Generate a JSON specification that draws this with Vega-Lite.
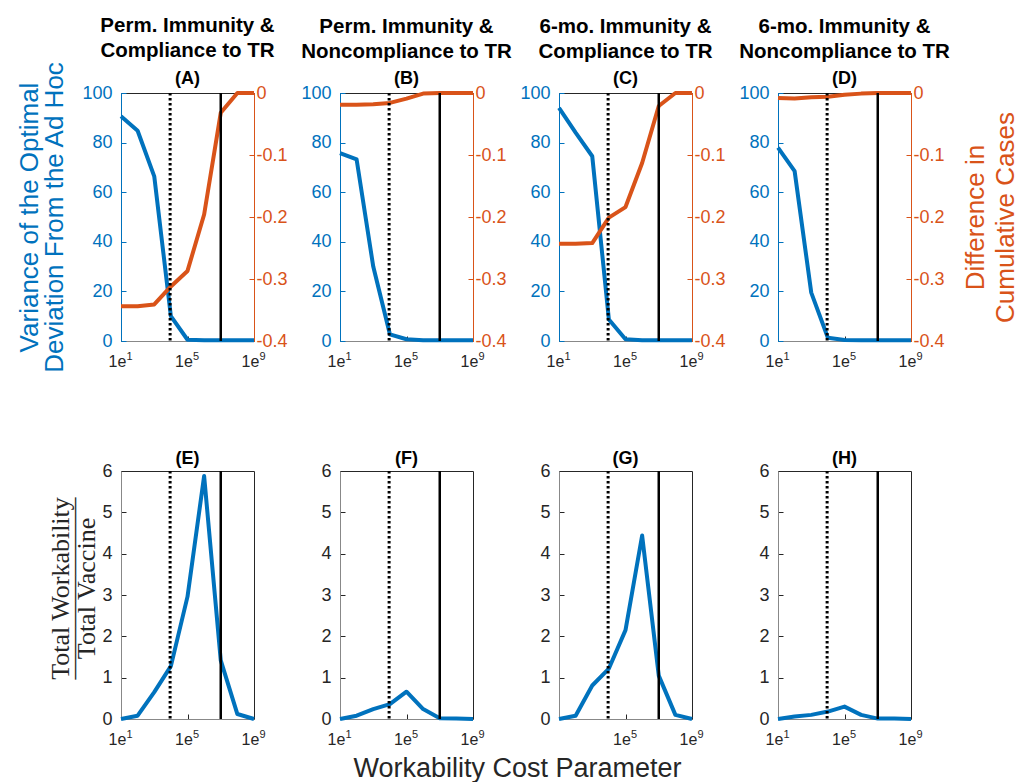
{
  "$schema": "https://vega.github.io/schema/vega-lite/v6.json",
  "background": "white",
  "padding": {"left": 16, "top": 15, "right": 0, "bottom": 0},
  "config": {
    "font": "Liberation Sans",
    "view": {"stroke": "#262626", "strokeWidth": 1},
    "axis": {"labelFont": "Liberation Sans", "labelFontSize": 18, "labelColor": "#262626", "domainColor": "#888888", "tickColor": "#262626", "grid": false, "titleFont": "Liberation Sans", "titleFontWeight": "normal", "tickSize": -5, "labelPadding": 13, "labelFlush": false},
    "title": {"font": "Liberation Sans", "fontSize": 20.5, "fontWeight": "bold", "color": "#000000", "subtitleFont": "Liberation Sans", "subtitleFontSize": 18, "subtitleFontWeight": "bold", "subtitleColor": "#000000", "lineHeight": 25, "subtitlePadding": 8, "offset": -4, "anchor": "middle", "frame": "group"},
    "line": {"strokeWidth": 4, "strokeJoin": "round"}
  },
  "datasets": {
    "top": [
      {"panel": "A", "cost": 10, "variance": 90.6, "difference": -0.344},
      {"panel": "A", "cost": 100, "variance": 84.8, "difference": -0.344},
      {"panel": "A", "cost": 1000, "variance": 66.4, "difference": -0.341},
      {"panel": "A", "cost": 10000, "variance": 10, "difference": -0.312},
      {"panel": "A", "cost": 100000, "variance": 0.5, "difference": -0.287},
      {"panel": "A", "cost": 1000000, "variance": 0.3, "difference": -0.196},
      {"panel": "A", "cost": 10000000, "variance": 0.3, "difference": -0.032},
      {"panel": "A", "cost": 100000000, "variance": 0.3, "difference": 0},
      {"panel": "A", "cost": 1000000000, "variance": 0.3, "difference": 0},
      {"panel": "B", "cost": 10, "variance": 75.8, "difference": -0.019},
      {"panel": "B", "cost": 100, "variance": 73.2, "difference": -0.019},
      {"panel": "B", "cost": 1000, "variance": 30, "difference": -0.018},
      {"panel": "B", "cost": 10000, "variance": 2.7, "difference": -0.016},
      {"panel": "B", "cost": 100000, "variance": 0.7, "difference": -0.009},
      {"panel": "B", "cost": 1000000, "variance": 0.3, "difference": -0.001},
      {"panel": "B", "cost": 10000000, "variance": 0.3, "difference": 0},
      {"panel": "B", "cost": 100000000, "variance": 0.3, "difference": 0},
      {"panel": "B", "cost": 1000000000, "variance": 0.3, "difference": 0},
      {"panel": "C", "cost": 10, "variance": 94, "difference": -0.243},
      {"panel": "C", "cost": 100, "variance": 84, "difference": -0.243},
      {"panel": "C", "cost": 1000, "variance": 74.5, "difference": -0.242},
      {"panel": "C", "cost": 10000, "variance": 8.7, "difference": -0.201},
      {"panel": "C", "cost": 100000, "variance": 0.7, "difference": -0.184},
      {"panel": "C", "cost": 1000000, "variance": 0.3, "difference": -0.113},
      {"panel": "C", "cost": 10000000, "variance": 0.3, "difference": -0.021},
      {"panel": "C", "cost": 100000000, "variance": 0.3, "difference": 0},
      {"panel": "C", "cost": 1000000000, "variance": 0.3, "difference": 0},
      {"panel": "D", "cost": 10, "variance": 78, "difference": -0.008},
      {"panel": "D", "cost": 100, "variance": 68.5, "difference": -0.009},
      {"panel": "D", "cost": 1000, "variance": 19.5, "difference": -0.007},
      {"panel": "D", "cost": 10000, "variance": 1.3, "difference": -0.006},
      {"panel": "D", "cost": 100000, "variance": 0.4, "difference": -0.003},
      {"panel": "D", "cost": 1000000, "variance": 0.3, "difference": -0.001},
      {"panel": "D", "cost": 10000000, "variance": 0.3, "difference": 0},
      {"panel": "D", "cost": 100000000, "variance": 0.3, "difference": 0},
      {"panel": "D", "cost": 1000000000, "variance": 0.3, "difference": 0}
    ],
    "bottom": [
      {"panel": "E", "cost": 10, "ratio": 0},
      {"panel": "E", "cost": 100, "ratio": 0.08},
      {"panel": "E", "cost": 1000, "ratio": 0.65},
      {"panel": "E", "cost": 10000, "ratio": 1.28},
      {"panel": "E", "cost": 100000, "ratio": 2.96},
      {"panel": "E", "cost": 1000000, "ratio": 5.88},
      {"panel": "E", "cost": 10000000, "ratio": 1.42},
      {"panel": "E", "cost": 100000000, "ratio": 0.12},
      {"panel": "E", "cost": 1000000000, "ratio": 0},
      {"panel": "F", "cost": 10, "ratio": 0},
      {"panel": "F", "cost": 100, "ratio": 0.08},
      {"panel": "F", "cost": 1000, "ratio": 0.24},
      {"panel": "F", "cost": 10000, "ratio": 0.36},
      {"panel": "F", "cost": 100000, "ratio": 0.66},
      {"panel": "F", "cost": 1000000, "ratio": 0.24},
      {"panel": "F", "cost": 10000000, "ratio": 0.02},
      {"panel": "F", "cost": 100000000, "ratio": 0.01},
      {"panel": "F", "cost": 1000000000, "ratio": 0},
      {"panel": "G", "cost": 10, "ratio": 0},
      {"panel": "G", "cost": 100, "ratio": 0.08},
      {"panel": "G", "cost": 1000, "ratio": 0.81},
      {"panel": "G", "cost": 10000, "ratio": 1.22},
      {"panel": "G", "cost": 100000, "ratio": 2.15},
      {"panel": "G", "cost": 1000000, "ratio": 4.44},
      {"panel": "G", "cost": 10000000, "ratio": 1.05},
      {"panel": "G", "cost": 100000000, "ratio": 0.1},
      {"panel": "G", "cost": 1000000000, "ratio": 0},
      {"panel": "H", "cost": 10, "ratio": 0},
      {"panel": "H", "cost": 100, "ratio": 0.06},
      {"panel": "H", "cost": 1000, "ratio": 0.1},
      {"panel": "H", "cost": 10000, "ratio": 0.18},
      {"panel": "H", "cost": 100000, "ratio": 0.3},
      {"panel": "H", "cost": 1000000, "ratio": 0.1},
      {"panel": "H", "cost": 10000000, "ratio": 0.01},
      {"panel": "H", "cost": 100000000, "ratio": 0.01},
      {"panel": "H", "cost": 1000000000, "ratio": 0}
    ],
    "thresholds": [
      {"threshold": "lower", "cost": 9000},
      {"threshold": "upper", "cost": 10000000}
    ]
  },
  "title": {"text": "Workability Cost Parameter", "orient": "bottom", "anchor": "middle", "frame": "bounds", "fontSize": 27, "fontWeight": "normal", "color": "#262626", "offset": 8},
  "columns": 4,
  "spacing": {"row": 130, "column": 86},
  "bounds": "flush",
  "concat": [
    {
      "width": 133, "height": 248,
      "title": {"text": ["Perm. Immunity &", "Compliance to TR"], "subtitle": "(A)", "dy": 23},
      "layer": [
        {"data": {"name": "top"}, "transform": [{"filter": "datum.panel === 'A'"}],
         "mark": {"type": "line", "color": "#0072BD"},
         "encoding": {
           "x": {"field": "cost", "type": "quantitative", "scale": {"type": "log", "domain": [10, 1000000000], "nice": false}, "axis": {"orient": "bottom", "offset": 0, "values": [10, 100000, 1000000000], "title": null, "labelExpr": "'1e'", "labelFontSize": 16, "labelOffset": -4, "labelPadding": 17}},
           "y": {"field": "variance", "type": "quantitative", "scale": {"domain": [0, 100], "nice": false}, "axis": {"orient": "left", "values": [0, 20, 40, 60, 80, 100], "domainColor": "#0072BD", "labelColor": "#0072BD", "tickColor": "#0072BD", "title": ["Variance of the Optimal", "Deviation From the Ad Hoc"], "titleColor": "#0072BD", "titleFontSize": 26, "titleLineHeight": 25, "titlePadding": 14, "labelPadding": 14}}
         }},
        {"data": {"name": "top"}, "transform": [{"filter": "datum.panel === 'A'"}],
         "mark": {"type": "line", "color": "#D95319"},
         "encoding": {
           "x": {"field": "cost", "type": "quantitative", "axis": null},
           "y": {"field": "difference", "type": "quantitative", "scale": {"domain": [-0.4, 0], "nice": false}, "axis": {"orient": "right", "values": [-0.4, -0.3, -0.2, -0.1, 0], "labelExpr": "datum.value == 0 ? '0' : '-' + format(abs(datum.value), '.1f')", "domainColor": "#D95319", "labelColor": "#D95319", "tickColor": "#D95319", "title": null, "labelPadding": 7}}
         }},
        {"data": {"name": "thresholds"}, "transform": [{"filter": "datum.threshold === 'lower'"}],
         "mark": {"type": "rule", "color": "#000000", "strokeWidth": 3, "strokeDash": [2.5, 2.5]},
         "encoding": {"x": {"field": "cost", "type": "quantitative", "axis": {"orient": "bottom", "offset": 0, "values": [10, 100000, 1000000000], "title": null, "labelExpr": "datum.value == 10 ? '1' : datum.value == 100000 ? '5' : '9'", "labelFontSize": 11, "labelOffset": 8, "labelPadding": 14, "tickOpacity": 0, "domain": false}}}},
        {"data": {"name": "thresholds"}, "transform": [{"filter": "datum.threshold === 'upper'"}],
         "mark": {"type": "rule", "color": "#000000", "strokeWidth": 2.5},
         "encoding": {"x": {"field": "cost", "type": "quantitative", "axis": null}}}
      ],
      "resolve": {"scale": {"y": "independent"}, "axis": {"x": "independent"}}
    },
    {
      "width": 133, "height": 248,
      "title": {"text": ["Perm. Immunity &", "Noncompliance to TR"], "subtitle": "(B)"},
      "layer": [
        {"data": {"name": "top"}, "transform": [{"filter": "datum.panel === 'B'"}],
         "mark": {"type": "line", "color": "#0072BD"},
         "encoding": {
           "x": {"field": "cost", "type": "quantitative", "scale": {"type": "log", "domain": [10, 1000000000], "nice": false}, "axis": {"orient": "bottom", "offset": 0, "values": [10, 100000, 1000000000], "title": null, "labelExpr": "'1e'", "labelFontSize": 16, "labelOffset": -4, "labelPadding": 17}},
           "y": {"field": "variance", "type": "quantitative", "scale": {"domain": [0, 100], "nice": false}, "axis": {"orient": "left", "values": [0, 20, 40, 60, 80, 100], "domainColor": "#0072BD", "labelColor": "#0072BD", "tickColor": "#0072BD", "title": null, "labelPadding": 14}}
         }},
        {"data": {"name": "top"}, "transform": [{"filter": "datum.panel === 'B'"}],
         "mark": {"type": "line", "color": "#D95319"},
         "encoding": {
           "x": {"field": "cost", "type": "quantitative", "axis": null},
           "y": {"field": "difference", "type": "quantitative", "scale": {"domain": [-0.4, 0], "nice": false}, "axis": {"orient": "right", "values": [-0.4, -0.3, -0.2, -0.1, 0], "labelExpr": "datum.value == 0 ? '0' : '-' + format(abs(datum.value), '.1f')", "domainColor": "#D95319", "labelColor": "#D95319", "tickColor": "#D95319", "title": null, "labelPadding": 7}}
         }},
        {"data": {"name": "thresholds"}, "transform": [{"filter": "datum.threshold === 'lower'"}],
         "mark": {"type": "rule", "color": "#000000", "strokeWidth": 3, "strokeDash": [2.5, 2.5]},
         "encoding": {"x": {"field": "cost", "type": "quantitative", "axis": {"orient": "bottom", "offset": 0, "values": [10, 100000, 1000000000], "title": null, "labelExpr": "datum.value == 10 ? '1' : datum.value == 100000 ? '5' : '9'", "labelFontSize": 11, "labelOffset": 8, "labelPadding": 14, "tickOpacity": 0, "domain": false}}}},
        {"data": {"name": "thresholds"}, "transform": [{"filter": "datum.threshold === 'upper'"}],
         "mark": {"type": "rule", "color": "#000000", "strokeWidth": 2.5},
         "encoding": {"x": {"field": "cost", "type": "quantitative", "axis": null}}}
      ],
      "resolve": {"scale": {"y": "independent"}, "axis": {"x": "independent"}}
    },
    {
      "width": 133, "height": 248,
      "title": {"text": ["6-mo. Immunity &", "Compliance to TR"], "subtitle": "(C)"},
      "layer": [
        {"data": {"name": "top"}, "transform": [{"filter": "datum.panel === 'C'"}],
         "mark": {"type": "line", "color": "#0072BD"},
         "encoding": {
           "x": {"field": "cost", "type": "quantitative", "scale": {"type": "log", "domain": [10, 1000000000], "nice": false}, "axis": {"orient": "bottom", "offset": 0, "values": [10, 100000, 1000000000], "title": null, "labelExpr": "'1e'", "labelFontSize": 16, "labelOffset": -4, "labelPadding": 17}},
           "y": {"field": "variance", "type": "quantitative", "scale": {"domain": [0, 100], "nice": false}, "axis": {"orient": "left", "values": [0, 20, 40, 60, 80, 100], "domainColor": "#0072BD", "labelColor": "#0072BD", "tickColor": "#0072BD", "title": null, "labelPadding": 14}}
         }},
        {"data": {"name": "top"}, "transform": [{"filter": "datum.panel === 'C'"}],
         "mark": {"type": "line", "color": "#D95319"},
         "encoding": {
           "x": {"field": "cost", "type": "quantitative", "axis": null},
           "y": {"field": "difference", "type": "quantitative", "scale": {"domain": [-0.4, 0], "nice": false}, "axis": {"orient": "right", "values": [-0.4, -0.3, -0.2, -0.1, 0], "labelExpr": "datum.value == 0 ? '0' : '-' + format(abs(datum.value), '.1f')", "domainColor": "#D95319", "labelColor": "#D95319", "tickColor": "#D95319", "title": null, "labelPadding": 7}}
         }},
        {"data": {"name": "thresholds"}, "transform": [{"filter": "datum.threshold === 'lower'"}],
         "mark": {"type": "rule", "color": "#000000", "strokeWidth": 3, "strokeDash": [2.5, 2.5]},
         "encoding": {"x": {"field": "cost", "type": "quantitative", "axis": {"orient": "bottom", "offset": 0, "values": [10, 100000, 1000000000], "title": null, "labelExpr": "datum.value == 10 ? '1' : datum.value == 100000 ? '5' : '9'", "labelFontSize": 11, "labelOffset": 8, "labelPadding": 14, "tickOpacity": 0, "domain": false}}}},
        {"data": {"name": "thresholds"}, "transform": [{"filter": "datum.threshold === 'upper'"}],
         "mark": {"type": "rule", "color": "#000000", "strokeWidth": 2.5},
         "encoding": {"x": {"field": "cost", "type": "quantitative", "axis": null}}}
      ],
      "resolve": {"scale": {"y": "independent"}, "axis": {"x": "independent"}}
    },
    {
      "width": 133, "height": 248,
      "title": {"text": ["6-mo. Immunity &", "Noncompliance to TR"], "subtitle": "(D)"},
      "layer": [
        {"data": {"name": "top"}, "transform": [{"filter": "datum.panel === 'D'"}],
         "mark": {"type": "line", "color": "#0072BD"},
         "encoding": {
           "x": {"field": "cost", "type": "quantitative", "scale": {"type": "log", "domain": [10, 1000000000], "nice": false}, "axis": {"orient": "bottom", "offset": 0, "values": [10, 100000, 1000000000], "title": null, "labelExpr": "'1e'", "labelFontSize": 16, "labelOffset": -4, "labelPadding": 17}},
           "y": {"field": "variance", "type": "quantitative", "scale": {"domain": [0, 100], "nice": false}, "axis": {"orient": "left", "values": [0, 20, 40, 60, 80, 100], "domainColor": "#0072BD", "labelColor": "#0072BD", "tickColor": "#0072BD", "title": null, "labelPadding": 14}}
         }},
        {"data": {"name": "top"}, "transform": [{"filter": "datum.panel === 'D'"}],
         "mark": {"type": "line", "color": "#D95319"},
         "encoding": {
           "x": {"field": "cost", "type": "quantitative", "axis": null},
           "y": {"field": "difference", "type": "quantitative", "scale": {"domain": [-0.4, 0], "nice": false}, "axis": {"orient": "right", "values": [-0.4, -0.3, -0.2, -0.1, 0], "labelExpr": "datum.value == 0 ? '0' : '-' + format(abs(datum.value), '.1f')", "domainColor": "#D95319", "labelColor": "#D95319", "tickColor": "#D95319", "title": ["Difference in", "Cumulative Cases"], "titleColor": "#D95319", "titleFontSize": 26, "titleLineHeight": 30, "titleAngle": 270, "titlePadding": 14, "labelPadding": 7}}
         }},
        {"data": {"name": "thresholds"}, "transform": [{"filter": "datum.threshold === 'lower'"}],
         "mark": {"type": "rule", "color": "#000000", "strokeWidth": 3, "strokeDash": [2.5, 2.5]},
         "encoding": {"x": {"field": "cost", "type": "quantitative", "axis": {"orient": "bottom", "offset": 0, "values": [10, 100000, 1000000000], "title": null, "labelExpr": "datum.value == 10 ? '1' : datum.value == 100000 ? '5' : '9'", "labelFontSize": 11, "labelOffset": 8, "labelPadding": 14, "tickOpacity": 0, "domain": false}}}},
        {"data": {"name": "thresholds"}, "transform": [{"filter": "datum.threshold === 'upper'"}],
         "mark": {"type": "rule", "color": "#000000", "strokeWidth": 2.5},
         "encoding": {"x": {"field": "cost", "type": "quantitative", "axis": null}}}
      ],
      "resolve": {"scale": {"y": "independent"}, "axis": {"x": "independent"}}
    },
    {
      "width": 133, "height": 248,
      "title": {"text": "(E)", "fontSize": 18, "offset": -6},
      "layer": [
        {"data": {"name": "bottom"}, "transform": [{"filter": "datum.panel === 'E'"}],
         "mark": {"type": "line", "color": "#0072BD"},
         "encoding": {
           "x": {"field": "cost", "type": "quantitative", "scale": {"type": "log", "domain": [10, 1000000000], "nice": false}, "axis": {"orient": "bottom", "offset": 0, "values": [10, 100000, 1000000000], "title": null, "labelExpr": "'1e'", "labelFontSize": 16, "labelOffset": -4, "labelPadding": 17}},
           "y": {"field": "ratio", "type": "quantitative", "scale": {"domain": [0, 6], "nice": false}, "axis": {"values": [0, 1, 2, 3, 4, 5, 6], "title": ["Total Workability", "———————", "Total Vaccine"], "titleFont": "Liberation Serif", "titleFontSize": 26, "titleLineHeight": 13, "titleColor": "#262626", "titlePadding": 2, "titleY": 117, "labelPadding": 14}}
         }},
        {"data": {"name": "thresholds"}, "transform": [{"filter": "datum.threshold === 'lower'"}],
         "mark": {"type": "rule", "color": "#000000", "strokeWidth": 3, "strokeDash": [2.5, 2.5]},
         "encoding": {"x": {"field": "cost", "type": "quantitative", "axis": {"orient": "bottom", "offset": 0, "values": [10, 100000, 1000000000], "title": null, "labelExpr": "datum.value == 10 ? '1' : datum.value == 100000 ? '5' : '9'", "labelFontSize": 11, "labelOffset": 8, "labelPadding": 14, "tickOpacity": 0, "domain": false}}}},
        {"data": {"name": "thresholds"}, "transform": [{"filter": "datum.threshold === 'upper'"}],
         "mark": {"type": "rule", "color": "#000000", "strokeWidth": 2.5},
         "encoding": {"x": {"field": "cost", "type": "quantitative", "axis": null}}}
      ],
      "resolve": {"axis": {"x": "independent"}}
    },
    {
      "width": 133, "height": 248,
      "title": {"text": "(F)", "fontSize": 18, "offset": -6},
      "layer": [
        {"data": {"name": "bottom"}, "transform": [{"filter": "datum.panel === 'F'"}],
         "mark": {"type": "line", "color": "#0072BD"},
         "encoding": {
           "x": {"field": "cost", "type": "quantitative", "scale": {"type": "log", "domain": [10, 1000000000], "nice": false}, "axis": {"orient": "bottom", "offset": 0, "values": [10, 100000, 1000000000], "title": null, "labelExpr": "'1e'", "labelFontSize": 16, "labelOffset": -4, "labelPadding": 17}},
           "y": {"field": "ratio", "type": "quantitative", "scale": {"domain": [0, 6], "nice": false}, "axis": {"values": [0, 1, 2, 3, 4, 5, 6], "title": null, "labelPadding": 14}}
         }},
        {"data": {"name": "thresholds"}, "transform": [{"filter": "datum.threshold === 'lower'"}],
         "mark": {"type": "rule", "color": "#000000", "strokeWidth": 3, "strokeDash": [2.5, 2.5]},
         "encoding": {"x": {"field": "cost", "type": "quantitative", "axis": {"orient": "bottom", "offset": 0, "values": [10, 100000, 1000000000], "title": null, "labelExpr": "datum.value == 10 ? '1' : datum.value == 100000 ? '5' : '9'", "labelFontSize": 11, "labelOffset": 8, "labelPadding": 14, "tickOpacity": 0, "domain": false}}}},
        {"data": {"name": "thresholds"}, "transform": [{"filter": "datum.threshold === 'upper'"}],
         "mark": {"type": "rule", "color": "#000000", "strokeWidth": 2.5},
         "encoding": {"x": {"field": "cost", "type": "quantitative", "axis": null}}}
      ],
      "resolve": {"axis": {"x": "independent"}}
    },
    {
      "width": 133, "height": 248,
      "title": {"text": "(G)", "fontSize": 18, "offset": -6},
      "layer": [
        {"data": {"name": "bottom"}, "transform": [{"filter": "datum.panel === 'G'"}],
         "mark": {"type": "line", "color": "#0072BD"},
         "encoding": {
           "x": {"field": "cost", "type": "quantitative", "scale": {"type": "log", "domain": [10, 1000000000], "nice": false}, "axis": {"orient": "bottom", "offset": 0, "values": [10, 100000, 1000000000], "title": null, "labelExpr": "datum.value == 10 ? '' : '1e'", "labelFontSize": 16, "labelOffset": -4, "labelPadding": 17}},
           "y": {"field": "ratio", "type": "quantitative", "scale": {"domain": [0, 6], "nice": false}, "axis": {"values": [0, 1, 2, 3, 4, 5, 6], "title": null, "labelPadding": 14}}
         }},
        {"data": {"name": "thresholds"}, "transform": [{"filter": "datum.threshold === 'lower'"}],
         "mark": {"type": "rule", "color": "#000000", "strokeWidth": 3, "strokeDash": [2.5, 2.5]},
         "encoding": {"x": {"field": "cost", "type": "quantitative", "axis": {"orient": "bottom", "offset": 0, "values": [10, 100000, 1000000000], "title": null, "labelExpr": "datum.value == 10 ? '' : datum.value == 100000 ? '5' : '9'", "labelFontSize": 11, "labelOffset": 8, "labelPadding": 14, "tickOpacity": 0, "domain": false}}}},
        {"data": {"name": "thresholds"}, "transform": [{"filter": "datum.threshold === 'upper'"}],
         "mark": {"type": "rule", "color": "#000000", "strokeWidth": 2.5},
         "encoding": {"x": {"field": "cost", "type": "quantitative", "axis": null}}}
      ],
      "resolve": {"axis": {"x": "independent"}}
    },
    {
      "width": 133, "height": 248,
      "title": {"text": "(H)", "fontSize": 18, "offset": -6},
      "layer": [
        {"data": {"name": "bottom"}, "transform": [{"filter": "datum.panel === 'H'"}],
         "mark": {"type": "line", "color": "#0072BD"},
         "encoding": {
           "x": {"field": "cost", "type": "quantitative", "scale": {"type": "log", "domain": [10, 1000000000], "nice": false}, "axis": {"orient": "bottom", "offset": 0, "values": [10, 100000, 1000000000], "title": null, "labelExpr": "'1e'", "labelFontSize": 16, "labelOffset": -4, "labelPadding": 17}},
           "y": {"field": "ratio", "type": "quantitative", "scale": {"domain": [0, 6], "nice": false}, "axis": {"values": [0, 1, 2, 3, 4, 5, 6], "title": null, "labelPadding": 14}}
         }},
        {"data": {"name": "thresholds"}, "transform": [{"filter": "datum.threshold === 'lower'"}],
         "mark": {"type": "rule", "color": "#000000", "strokeWidth": 3, "strokeDash": [2.5, 2.5]},
         "encoding": {"x": {"field": "cost", "type": "quantitative", "axis": {"orient": "bottom", "offset": 0, "values": [10, 100000, 1000000000], "title": null, "labelExpr": "datum.value == 10 ? '1' : datum.value == 100000 ? '5' : '9'", "labelFontSize": 11, "labelOffset": 8, "labelPadding": 14, "tickOpacity": 0, "domain": false}}}},
        {"data": {"name": "thresholds"}, "transform": [{"filter": "datum.threshold === 'upper'"}],
         "mark": {"type": "rule", "color": "#000000", "strokeWidth": 2.5},
         "encoding": {"x": {"field": "cost", "type": "quantitative", "axis": null}}}
      ],
      "resolve": {"axis": {"x": "independent"}}
    }
  ]
}
